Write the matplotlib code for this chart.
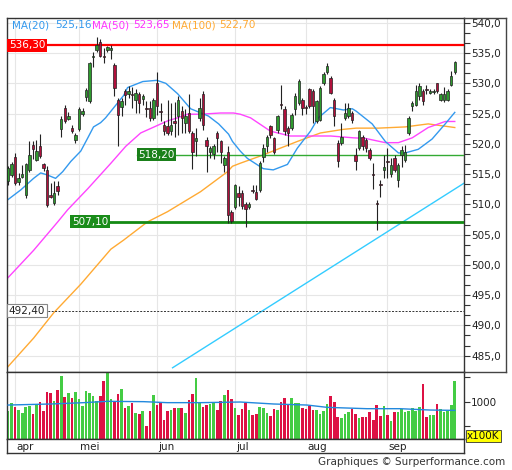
import matplotlib.pyplot as plt
import numpy as np
from matplotlib.patches import Rectangle
from matplotlib.lines import Line2D

# daily candles (index = trading day)
opens = [513.8, 514.8, 517.8, 513.7, 514.6, 511.6, 515.7, 519.8, 517.4, 519.6,
         516.6, 515.7, 511.6, 510.2, 513.1, 522.4, 525.9, 524.1, 522.7, 520.7,
         522.4, 524.9, 527.7, 527.1, 534.3, 535.5, 536.85, 534.6, 535.5, 535.5,
         533.0, 527.3, 526.1, 528.7, 528.2, 528.2, 527.3, 528.2, 527.4, 525.9,
         525.9, 524.3, 530.1, 525.5, 523.2, 522.9, 522.1, 523.7, 524.6, 525.4,
         523.5, 525.1, 521.8, 520.4, 524.3, 528.2, 520.7, 518.7, 518.4, 521.8,
         520.4, 516.5, 518.7, 508.7, 509.5, 511.8, 511.8, 510.1, 509.5, 512.3,
         512.0, 512.3, 517.9, 519.6, 522.9, 521.0, 522.3, 526.6, 525.7, 522.6,
         522.6, 525.7, 526.8, 527.3, 526.1, 529.0, 528.7, 523.7, 524.0, 530.1,
         531.8, 530.9, 527.3, 520.1, 520.1, 524.3, 524.6, 525.1, 518.2, 519.3,
         521.2, 520.7, 519.0, 515.1, 510.2, 513.4, 515.7, 517.1, 515.1, 517.6,
         514.0, 518.2, 517.3, 521.8, 526.2, 526.5, 527.9, 528.7, 529.0, 528.4,
         528.5, 530.0, 527.3, 527.2, 527.3, 529.8, 531.8]
highs = [516.3, 517.0, 518.5, 515.2, 516.5, 516.8, 520.4, 520.5, 520.7, 521.6,
         516.9, 516.3, 513.5, 513.8, 513.8, 524.6, 526.5, 525.2, 523.2, 521.8,
         526.1, 525.9, 529.2, 533.5, 535.2, 537.7, 537.4, 535.9, 536.2, 536.3,
         533.3, 527.6, 527.6, 529.0, 529.6, 529.4, 529.0, 528.5, 528.2, 527.1,
         527.1, 527.6, 531.8, 526.8, 523.7, 527.3, 526.8, 526.9, 527.9, 526.2,
         525.7, 528.2, 522.1, 522.7, 527.6, 528.7, 521.2, 519.6, 519.9, 522.1,
         520.7, 518.0, 519.6, 509.0, 513.4, 513.0, 512.3, 510.4, 510.4, 513.2,
         513.2, 517.1, 520.0, 521.5, 523.2, 521.2, 524.8, 529.8, 526.2, 522.9,
         525.1, 528.4, 530.7, 527.6, 526.5, 529.3, 529.0, 527.3, 529.6, 531.8,
         533.3, 531.2, 527.6, 520.7, 523.4, 526.8, 526.8, 525.4, 519.3, 522.3,
         521.5, 520.9, 519.3, 516.8, 510.7, 514.0, 518.2, 519.3, 517.6, 518.2,
         516.8, 519.6, 519.8, 524.6, 527.1, 529.8, 530.1, 529.0, 529.8, 529.0,
         529.0, 530.1, 528.4, 529.4, 529.0, 532.1, 533.7]
lows = [513.2, 514.5, 513.2, 513.2, 514.3, 511.0, 515.4, 517.5, 517.1, 517.7,
        515.5, 509.6, 511.0, 509.9, 511.6, 521.1, 523.5, 523.9, 521.8, 520.2,
        522.1, 524.6, 527.1, 526.8, 532.7, 535.2, 534.3, 533.4, 535.2, 534.0,
        527.9, 519.6, 524.6, 526.5, 527.6, 526.0, 525.1, 525.1, 526.5, 524.5,
        523.7, 524.0, 524.8, 523.7, 521.5, 521.5, 521.5, 521.2, 521.5, 521.8,
        521.8, 521.8, 515.9, 518.0, 523.7, 522.3, 515.4, 517.6, 517.5, 518.7,
        516.8, 515.4, 507.0, 507.0, 509.3, 509.8, 509.3, 506.2, 509.3, 511.8,
        510.7, 512.0, 517.0, 518.7, 520.9, 518.4, 521.8, 525.7, 521.5, 519.6,
        522.3, 524.8, 526.5, 524.8, 525.0, 525.9, 523.4, 523.4, 523.7, 529.8,
        531.5, 528.2, 522.9, 516.2, 519.8, 524.0, 524.3, 523.4, 515.7, 519.0,
        519.0, 518.7, 517.3, 512.6, 505.7, 511.2, 514.3, 514.3, 514.6, 515.4,
        512.9, 516.2, 517.0, 521.5, 525.4, 526.2, 527.3, 526.5, 528.2, 528.2,
        528.2, 528.4, 527.1, 527.0, 527.1, 529.6, 531.5]
closes = [516.0, 516.7, 513.5, 514.3, 515.1, 516.6, 518.2, 519.2, 518.8, 518.0,
          516.0, 509.9, 511.3, 511.8, 512.2, 524.1, 523.8, 524.6, 522.1, 521.4,
          525.7, 525.5, 528.9, 533.4, 534.5, 536.3, 534.6, 534.4, 536.0, 535.8,
          529.3, 524.8, 527.1, 528.1, 528.8, 528.0, 528.4, 526.8, 527.9, 525.8,
          524.3, 527.3, 526.2, 525.3, 522.1, 521.8, 523.2, 523.5, 527.3, 524.3,
          524.6, 522.1, 518.7, 520.9, 525.9, 523.2, 519.6, 519.3, 519.6, 520.9,
          518.7, 517.6, 508.2, 507.3, 513.2, 511.2, 509.8, 509.3, 510.1, 512.2,
          510.9, 516.8, 519.3, 521.2, 521.5, 518.7, 524.6, 526.5, 522.1, 521.8,
          524.8, 527.9, 530.4, 525.9, 526.0, 526.2, 526.2, 527.1, 529.3, 531.5,
          532.9, 528.4, 524.6, 517.1, 521.2, 525.1, 525.9, 524.0, 517.1, 522.1,
          519.6, 519.3, 517.6, 514.8, 510.0, 513.2, 516.2, 517.0, 516.5, 515.7,
          516.5, 519.0, 518.7, 524.3, 526.8, 528.7, 529.6, 527.1, 528.9, 528.8,
          528.8, 528.7, 528.2, 528.2, 528.7, 531.2, 533.5]
volumes = [817, 966, 885, 831, 763, 899, 919, 743, 953, 986,
           817, 1189, 1176, 1007, 1237, 1520, 1101, 1176, 1068, 1196,
           1061, 912, 1216, 1169, 1115, 1007, 1122, 1412, 1608, 1047,
           1007, 1162, 1250, 872, 919, 966, 763, 757, 811, 513,
           817, 1128, 939, 993, 628, 804, 831, 872, 878, 878,
           777, 1041, 1149, 1487, 993, 892, 926, 959, 980, 831,
           1007, 1128, 1237, 1061, 878, 736, 844, 980, 838, 723,
           750, 885, 865, 763, 716, 844, 824, 993, 1074, 946,
           1074, 980, 980, 865, 851, 912, 831, 831, 743, 804,
           959, 1115, 1000, 696, 662, 743, 790, 851, 743, 676,
           696, 682, 790, 628, 926, 709, 905, 723, 608, 784,
           784, 844, 784, 811, 872, 817, 899, 1358, 689, 730,
           723, 959, 844, 797, 811, 932, 1426]

# moving averages (day index, value)
ma20_x = [0, 3.6, 7.2, 9.2, 10.9, 13.4, 15.4, 17.7, 20.5, 22.5, 24.1, 26.1, 27.5,
          32.6, 33.7, 38, 42, 44.5, 47.8, 51.5, 56.5, 59.4, 62.2, 63.3, 65.5, 67.5,
          72, 74.8, 78.8, 81.6, 85.3, 87.5, 90.9, 94.6, 97.1, 98.2, 102.7, 106.4,
          110.1, 112, 115.7, 119.6, 123.3, 126]
ma20_y = [510.8, 512.4, 514.3, 515.2, 514.9, 514.3, 515.4, 517.1, 518.8, 521.0, 522.8,
          523.5, 524.3, 528.0, 529.3, 530.3, 530.5, 530.0, 528.3, 525.8, 524.6, 523.3,
          521.6, 520.4, 518.8, 517.6, 515.9, 515.7, 516.6, 519.3, 522.1, 524.3, 526.0,
          525.6, 525.8, 525.4, 523.3, 520.4, 518.5, 518.5, 519.1, 520.8, 523.3, 525.2]
ma50_x = [0, 7.2, 14, 16.8, 22.5, 29, 33.2, 37.4, 45, 47.8, 50.6, 54.3, 59.9, 63.6,
          65.5, 68.4, 74, 79.6, 85.3, 91, 97.4, 100.8, 106.4, 110.1, 114, 118.5,
          123.3, 126]
ma50_y = [497.9, 502.4, 507.1, 509.1, 512.6, 516.8, 519.6, 521.8, 523.8, 524.3, 524.9,
          524.9, 525.1, 525.1, 524.9, 524.3, 522.1, 521.3, 521.3, 521.3, 521.0, 520.9,
          520.2, 520.2, 521.0, 522.7, 523.7, 523.7]
ma100_x = [0, 7.2, 12.9, 20.5, 29, 32.6, 39.3, 45, 54.3, 61.9, 63.3, 65.5, 71.2,
           81.6, 88.1, 94.6, 98.2, 104.4, 112, 118.5, 126]
ma100_y = [483.2, 487.9, 492.1, 496.8, 502.6, 504.1, 507.1, 508.8, 512.1, 515.4, 516.3,
           516.8, 518.0, 520.4, 521.8, 522.4, 522.6, 522.6, 522.8, 523.3, 522.7]
volma_x = [0, 12, 21.4, 28, 38.3, 44.9, 54.3, 65.5, 74.9, 84.3, 90, 101.2, 110.6, 119, 126]
volma_y = [932, 953, 980, 1007, 1000, 980, 980, 993, 953, 932, 885, 858, 858, 831, 824]

trend_x = [46.4, 128.6]
trend_y = [483.0, 513.5]

level_top = 536.30
level_mid = 518.20
level_low = 507.10
level_dash = 492.40

months = ['apr', 'mei', 'jun', 'jul', 'aug', 'sep']
month_idx = [2, 20, 42, 64, 84, 107]

W, H = 512, 470


def box(x0, y0, x1, y1):
    return [x0 / W, 1 - y1 / H, (x1 - x0) / W, (y1 - y0) / H]


def fmt(v, d):
    return f'{v:.{d}f}'.replace('.', ',')


fig = plt.figure(figsize=(W / 100, H / 100), dpi=100)
ax = fig.add_axes(box(7, 18, 464, 372))
axv = fig.add_axes(box(7, 372, 464, 439), sharex=ax)
axm = fig.add_axes(box(7, 439, 464, 453), sharex=ax)

n = len(closes)
x = np.arange(n)
o = np.array(opens)
c = np.array(closes)
up = c >= o

grid_c = '#e6e6e6'
for a in (ax, axv, axm):
    for s in a.spines.values():
        s.set_color('#333333')
        s.set_linewidth(1.0)

# price panel
for yv in range(485, 541, 5):
    ax.axhline(yv, color=grid_c, lw=0.8, zorder=0)
for m in month_idx:
    ax.axvline(m, color=grid_c, lw=0.8, zorder=0)
    axv.axvline(m, color=grid_c, lw=0.8, zorder=0)

ax.plot(ma100_x, ma100_y, color='#ffaa33', lw=1.0, zorder=2)
ax.plot(ma50_x, ma50_y, color='#ff44ff', lw=1.0, zorder=2)
ax.plot(ma20_x, ma20_y, color='#3399ee', lw=1.0, zorder=2)
ax.plot(trend_x, trend_y, color='#33ccff', lw=1.0, zorder=2)

ax.axhline(level_top, color='#ff0000', lw=1.6, zorder=3)
ax.plot([36.5, 128.6], [level_mid, level_mid], color='#33aa33', lw=1.0, zorder=3)
ax.plot([17.7, 128.6], [level_low, level_low], color='#138a13', lw=2.0, zorder=3)
ax.axhline(level_dash, color='#333333', lw=0.7, ls=(0, (2, 1.5)), zorder=3)

ax.vlines(x, lows, highs, color='#222222', lw=0.8, zorder=4)
body = np.maximum(np.abs(c - o), 0.12)
ax.bar(x, body, bottom=np.minimum(o, c), width=0.7,
       color=np.where(up, '#2e9a2e', '#b0103c'), edgecolor='#222222',
       linewidth=0.5, zorder=5)

lbl = dict(fontsize=7.5, va='center', ha='left', zorder=6)
ax.text(0.004, level_top, fmt(level_top, 2), transform=ax.get_yaxis_transform(),
        color='white', bbox=dict(boxstyle='square,pad=0.15', fc='#ff0000', ec='none'), **lbl)
ax.text(36.8, level_mid, fmt(level_mid, 2), color='white',
        bbox=dict(boxstyle='square,pad=0.15', fc='#1a801a', ec='none'), **lbl)
ax.text(18.0, level_low, fmt(level_low, 2), color='white',
        bbox=dict(boxstyle='square,pad=0.15', fc='#1a8c1a', ec='none'), **lbl)
ax.text(0.004, level_dash, fmt(level_dash, 2), transform=ax.get_yaxis_transform(),
        color='#222222', bbox=dict(boxstyle='square,pad=0.15', fc='white', ec='#888888', lw=0.8), **lbl)

ax.set_xlim(-0.3, 128.6)
ax.set_ylim(482.3, 540.8)
ax.yaxis.tick_right()
ax.set_yticks(range(485, 541, 5))
ax.set_yticklabels([fmt(v, 1) for v in range(485, 541, 5)])
ax.set_yticks(np.arange(485, 541, 5 / 3), minor=True)
ax.tick_params(axis='y', which='both', direction='out', length=4, width=0.8,
               color='#333333', labelsize=7.5, labelcolor='#222222', pad=1)
ax.tick_params(axis='x', which='both', bottom=False, labelbottom=False)

# volume panel
axv.bar(x, volumes, width=0.75, color=np.where(up, '#44cc44', '#dd1144'), zorder=2)
axv.plot(volma_x, volma_y, color='#2288dd', lw=1.0, zorder=3)
axv.set_ylim(245, 1600)
axv.yaxis.tick_right()
axv.set_yticks([1000])
axv.set_yticklabels(['1000'])
axv.set_yticks([500, 1500], minor=True)
axv.tick_params(axis='y', which='both', direction='out', length=4, width=0.8,
                color='#333333', labelsize=7.5, labelcolor='#222222', pad=1)
axv.tick_params(axis='x', which='both', bottom=False, labelbottom=False)

# month strip
axm.set_yticks([])
axm.tick_params(axis='x', which='both', bottom=False, labelbottom=False)
for name, m in zip(months, month_idx):
    axm.text(m + 0.4, 0.45, name, transform=axm.get_xaxis_transform(),
             fontsize=7.5, color='#222222', ha='left', va='center')

# legend
legend = [('MA(20)', 12, '#3399ee'), (fmt(525.16, 2), 55, '#3399ee'),
          ('MA(50)', 92, '#ff33ff'), (fmt(523.65, 2), 133, '#ff33ff'),
          ('MA(100)', 172, '#ffaa33'), (fmt(522.70, 2), 219, '#ffaa33')]
for t, px, col in legend:
    fig.text(px / W, 1 - 25 / H, t, fontsize=7.5, color=col, va='center', ha='left')

# frame around price labels
fig.add_artist(Line2D([464 / W, 506 / W], [1 - 18 / H, 1 - 18 / H], color='#444444', lw=1.0))
fig.add_artist(Line2D([506 / W, 506 / W], [1 - 18 / H, 1 - 372 / H], color='#444444', lw=1.0))
fig.add_artist(Line2D([464 / W, 506 / W], [1 - 372 / H, 1 - 372 / H], color='#444444', lw=1.0))

fig.text(467 / W, 1 - 436 / H, 'x100K', fontsize=7.5, color='#111111', va='center', ha='left',
         bbox=dict(boxstyle='square,pad=0.1', fc='#ffff00', ec='#333333', lw=0.6))
fig.text(505 / W, 1 - 462 / H, 'Graphiques \u00a9 Surperformance.com', fontsize=7.5,
         color='#333333', ha='right', va='center')

fig.savefig('out.png', dpi=100)
